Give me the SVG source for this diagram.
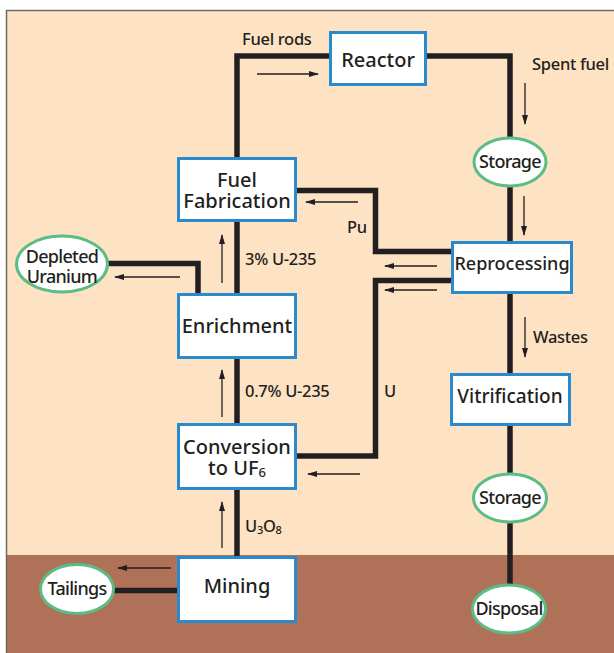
<svg xmlns="http://www.w3.org/2000/svg" width="614" height="653" viewBox="0 0 614 653">
<defs>
<marker id="ah" markerUnits="userSpaceOnUse" markerWidth="10" markerHeight="6" refX="9" refY="3" orient="auto">
<path d="M0,0 L10,3 L0,6 z" fill="#231f20"/>
</marker>
</defs>
<style>
.box{fill:#ffffff;stroke:#2a8ad0;stroke-width:3}
.ell{fill:#ffffff;stroke:#5cbc86;stroke-width:3}
.thick{fill:none;stroke:#231f20;stroke-width:5.5;stroke-linejoin:miter}
.thin{fill:none;stroke:#231f20;stroke-width:1.3;marker-end:url(#ah)}
.bt{font-family:"Noto Sans","Open Sans",sans-serif;font-size:20px;font-weight:500;fill:#231f20;text-anchor:middle}
.et{font-family:"Noto Sans","Open Sans",sans-serif;font-size:18px;font-weight:500;fill:#231f20;text-anchor:middle;letter-spacing:-0.7px}
.lb{font-family:"Noto Sans","Open Sans",sans-serif;font-size:16.5px;font-weight:500;fill:#231f20;letter-spacing:-0.3px}
.rp{font-size:18px}
.vt{font-size:19px}
</style>
<rect x="0" y="0" width="614" height="653" fill="#ffffff"/>
<rect x="7" y="11" width="607" height="642" fill="#fde3c3"/>
<rect x="7" y="555" width="607" height="98" fill="#b07159"/>
<path d="M6.5,653 V10.5 H614" fill="none" stroke="#6e6a66" stroke-width="1.5"/>

<g id="connectors">
<path class="thick" d="M237,157 V56 H330"/>
<path class="thick" d="M427,56 H510 V138"/>
<path class="thick" d="M510,186 V242"/>
<path class="thick" d="M510,293 V374"/>
<path class="thick" d="M510,425 V474"/>
<path class="thick" d="M510,522 V585"/>
<path class="thick" d="M452,251.5 H375.5 V190.5 H297"/>
<path class="thick" d="M452,280.5 H375.5 V456 H297"/>
<path class="thick" d="M198,293 V263.5 H107"/>
<path class="thick" d="M237,222 V293"/>
<path class="thick" d="M237,359 V423"/>
<path class="thick" d="M237,490 V556"/>
<path class="thick" d="M177,590.5 H113"/>
<path class="thin" d="M257,74 H318"/>
<path class="thin" d="M525,83 V124"/>
<path class="thin" d="M524,196 V235"/>
<path class="thin" d="M358,202 H306"/>
<path class="thin" d="M437,266 H385"/>
<path class="thin" d="M437,290 H385"/>
<path class="thin" d="M180,277 H115"/>
<path class="thin" d="M222,283 V235"/>
<path class="thin" d="M222,417 V370"/>
<path class="thin" d="M525,317 V357"/>
<path class="thin" d="M360,474 H308"/>
<path class="thin" d="M222,548 V502"/>
<path class="thin" d="M171,568 H118"/>
<text class="lb" x="242" y="45">Fuel rods</text>
<text class="lb" x="532" y="70">Spent fuel</text>
<text class="lb" x="347" y="233">Pu</text>
<text class="lb" x="245" y="265">3% U-235</text>
<text class="lb" x="245" y="397">0.7% U-235</text>
<text class="lb" x="384" y="397">U</text>
<text class="lb" x="533" y="343">Wastes</text>
<text class="lb" x="245" y="532">U<tspan style="font-size:11px" dy="2">3</tspan><tspan dy="-2">O</tspan><tspan style="font-size:11px" dy="2">8</tspan></text>
</g>

<g id="reactor">
<rect class="box" x="330.5" y="32.5" width="95" height="52"/>
<text class="bt" x="378" y="67">Reactor</text>
</g>
<g id="storage1">
<ellipse class="ell" cx="510" cy="162" rx="36" ry="24"/>
<text class="et" x="510" y="168">Storage</text>
</g>
<g id="fuel-fabrication">
<rect class="box" x="178.5" y="158.5" width="117" height="62"/>
<text class="bt" x="237" y="187">Fuel</text>
<text class="bt" x="237" y="208">Fabrication</text>
</g>
<g id="reprocessing">
<rect class="box" x="452.5" y="242.5" width="119" height="50"/>
<text class="bt rp" x="512" y="270">Reprocessing</text>
</g>
<g id="depleted-uranium">
<ellipse class="ell" cx="62" cy="264" rx="45.5" ry="28"/>
<text class="et" x="62" y="263">Depleted</text>
<text class="et" x="62" y="283">Uranium</text>
</g>
<g id="enrichment">
<rect class="box" x="178.5" y="294.5" width="117" height="63"/>
<text class="bt" x="237" y="333">Enrichment</text>
</g>
<g id="vitrification">
<rect class="box" x="451.5" y="374.5" width="118" height="50"/>
<text class="bt vt" x="510" y="403">Vitrification</text>
</g>
<g id="conversion">
<rect class="box" x="178.5" y="424.5" width="117" height="64"/>
<text class="bt" x="237" y="454">Conversion</text>
<text class="bt" x="237" y="475">to UF<tspan style="font-size:13px" dy="2">6</tspan></text>
</g>
<g id="storage2">
<ellipse class="ell" cx="510" cy="498" rx="36.5" ry="24"/>
<text class="et" x="510" y="504">Storage</text>
</g>
<g id="mining">
<rect class="box" x="178.5" y="557.5" width="117" height="64"/>
<text class="bt" x="237" y="593">Mining</text>
</g>
<g id="tailings">
<ellipse class="ell" cx="77" cy="589" rx="36.5" ry="24.5"/>
<text class="et" x="77" y="595">Tailings</text>
</g>
<g id="disposal">
<ellipse class="ell" cx="509" cy="609" rx="36.5" ry="24"/>
<text class="et" x="509" y="615">Disposal</text>
</g>
</svg>
